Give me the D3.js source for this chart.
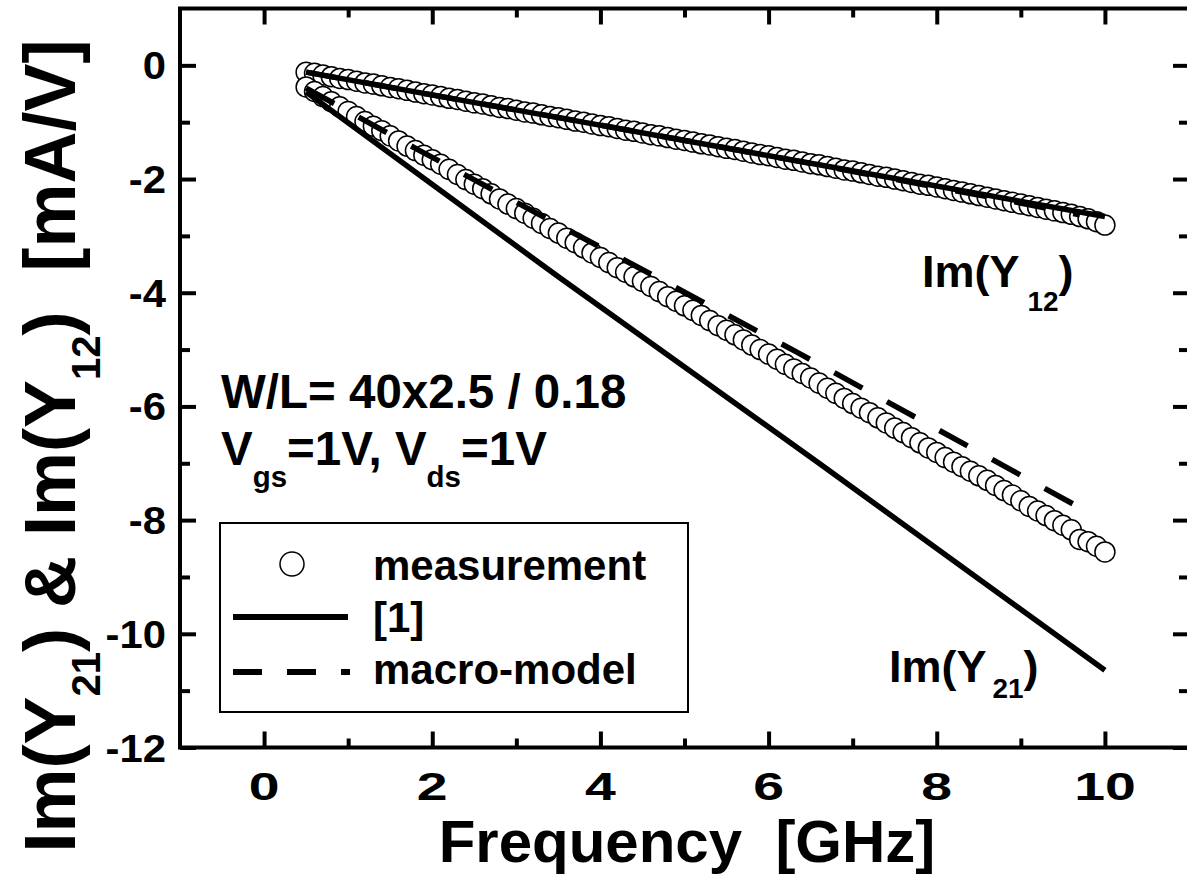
<!DOCTYPE html>
<html>
<head>
<meta charset="utf-8">
<script src="https://cdn.jsdelivr.net/npm/d3@7/dist/d3.min.js"></script>
<style>
  body { margin: 0; background: #fff; }
  svg { display: block; font-family: "Liberation Sans", Arial, sans-serif; font-weight: bold; }
  text { white-space: pre; }
</style>
</head>
<body>
<div id="chart"></div>
<script>
// measurement frequencies [GHz]
const freq = [0.5, 0.6, 0.7, 0.8, 0.9, 1.0, 1.1, 1.2, 1.3, 1.4, 1.5, 1.6, 1.7, 1.8, 1.9,
    2.0, 2.1, 2.2, 2.3, 2.4, 2.5, 2.6, 2.7, 2.8, 2.9, 3.0, 3.1, 3.2, 3.3, 3.4, 3.5, 3.6, 3.7, 3.8, 3.9,
    4.0, 4.1, 4.2, 4.3, 4.4, 4.5, 4.6, 4.7, 4.8, 4.9, 5.0, 5.1, 5.2, 5.3, 5.4, 5.5, 5.6, 5.7, 5.8, 5.9,
    6.0, 6.1, 6.2, 6.3, 6.4, 6.5, 6.6, 6.7, 6.8, 6.9, 7.0, 7.1, 7.2, 7.3, 7.4, 7.5, 7.6, 7.7, 7.8, 7.9,
    8.0, 8.1, 8.2, 8.3, 8.4, 8.5, 8.6, 8.7, 8.8, 8.9, 9.0, 9.1, 9.2, 9.3, 9.4, 9.5, 9.6, 9.7, 9.8, 9.9, 10.0];

// measured Im(Y12) [mA/V]
const measY12 = [-0.12, -0.14, -0.17, -0.20, -0.23, -0.25, -0.28, -0.31, -0.33, -0.36, -0.39, -0.41, -0.44, -0.47, -0.50,
    -0.52, -0.55, -0.58, -0.60, -0.63, -0.66, -0.68, -0.71, -0.74, -0.76, -0.79, -0.82, -0.84, -0.87, -0.90, -0.92, -0.95, -0.98, -1.00, -1.03,
    -1.06, -1.08, -1.11, -1.14, -1.16, -1.19, -1.22, -1.24, -1.27, -1.30, -1.32, -1.35, -1.38, -1.40, -1.43, -1.46, -1.48, -1.51, -1.54, -1.57,
    -1.59, -1.62, -1.65, -1.67, -1.70, -1.73, -1.75, -1.78, -1.81, -1.84, -1.86, -1.89, -1.92, -1.95, -1.97, -2.00, -2.03, -2.06, -2.09, -2.11,
    -2.14, -2.17, -2.20, -2.23, -2.26, -2.29, -2.32, -2.35, -2.38, -2.41, -2.44, -2.47, -2.50, -2.53, -2.56, -2.59, -2.62, -2.66, -2.70, -2.75, -2.81];

// measured Im(Y21) [mA/V]
const measY21 = [-0.38, -0.46, -0.55, -0.64, -0.73, -0.81, -0.90, -0.99, -1.07, -1.15, -1.24, -1.33, -1.42, -1.50, -1.58,
    -1.66, -1.74, -1.83, -1.92, -2.01, -2.09, -2.17, -2.26, -2.35, -2.44, -2.52, -2.60, -2.69, -2.78, -2.87, -2.95, -3.04, -3.12, -3.21, -3.30,
    -3.38, -3.47, -3.56, -3.64, -3.72, -3.80, -3.89, -3.98, -4.07, -4.15, -4.23, -4.31, -4.40, -4.49, -4.58, -4.66, -4.74, -4.83, -4.92, -5.00,
    -5.08, -5.17, -5.26, -5.34, -5.42, -5.50, -5.59, -5.68, -5.77, -5.86, -5.95, -6.03, -6.11, -6.20, -6.29, -6.38, -6.46, -6.55, -6.64, -6.73,
    -6.81, -6.90, -6.98, -7.06, -7.14, -7.22, -7.30, -7.39, -7.48, -7.56, -7.66, -7.76, -7.84, -7.92, -8.01, -8.09, -8.17, -8.34, -8.38, -8.46, -8.56];

// model [1] (solid)
const refFreq = [0.5, 3.5, 6.6, 10.0];
const refY21 = [-0.47, -3.72, -7.00, -10.64];
const refY12 = [-0.12, -0.92, -1.75, -2.66];

// macro-model (dashed)
const macroFreq = [0.5, 1.85, 3.81, 6.33, 8.89, 9.7];
const macroY21 = [-0.40, -1.50, -3.05, -5.04, -7.12, -7.78];
const macroY12 = [-0.12, -0.48, -1.00, -1.68, -2.39, -2.63];

const xMajor = [0, 2, 4, 6, 8, 10];
const xMinor = [1, 3, 5, 7, 9];
const yMajor = [0, -2, -4, -6, -8, -10, -12];
const yMinor = [-1, -3, -5, -7, -9, -11];

const width = 1187;
const height = 885;
const margin = { top: 8.5, right: -2, bottom: 137.5, left: 180 };

const svg = d3.select('#chart')
    .append('svg')
    .attr('width', width)
    .attr('height', height);

const x = d3.scaleLinear()
    .domain([-1, 11])
    .range([margin.left, width - margin.right]);

const y = d3.scaleLinear()
    .domain([-12, 1])
    .range([height - margin.bottom, margin.top]);

// measurement circles first, model lines on top
const meas = svg.append('g')
    .attr('fill', 'white')
    .attr('stroke', 'black')
    .attr('stroke-width', 1.5);

meas.selectAll('circle.y12')
    .data(freq)
    .join('circle')
    .attr('class', 'y12')
    .attr('cx', d => x(d))
    .attr('cy', (d, i) => y(measY12[i]))
    .attr('r', 10);

meas.selectAll('circle.y21')
    .data(freq)
    .join('circle')
    .attr('class', 'y21')
    .attr('cx', d => x(d))
    .attr('cy', (d, i) => y(measY21[i]))
    .attr('r', 10);

const line = d3.line()
    .x(d => x(d[0]))
    .y(d => y(d[1]));

const lines = [
    { f: macroFreq, v: macroY12, dash: '32,28' },
    { f: macroFreq, v: macroY21, dash: '32,28' },
    { f: refFreq, v: refY12, dash: null },
    { f: refFreq, v: refY21, dash: null },
];

svg.append('g')
    .selectAll('path')
    .data(lines)
    .join('path')
    .attr('fill', 'none')
    .attr('stroke', 'black')
    .attr('stroke-width', 5.5)
    .attr('stroke-dasharray', d => d.dash)
    .attr('d', d => line(d.f.map((f, i) => [f, d.v[i]])));

// frame + inward ticks on all four sides
const plotW = x.range()[1] - x.range()[0];
const plotH = y.range()[0] - y.range()[1];

const tickAxis = (axis, scale, values, size) =>
    axis(scale).tickValues(values).tickSize(size).tickFormat('');

const addAxis = (ax, tr) => {
    const g = svg.append('g')
        .attr('transform', tr)
        .call(ax);
    g.select('.domain').remove();
    g.selectAll('.tick line').attr('stroke', 'black').attr('stroke-width', 4);
    return g;
};

addAxis(tickAxis(d3.axisBottom, x, xMajor, -16), `translate(0,${y.range()[0]})`);
addAxis(tickAxis(d3.axisBottom, x, xMinor, -9), `translate(0,${y.range()[0]})`);
addAxis(tickAxis(d3.axisTop, x, xMajor, -16), `translate(0,${y.range()[1]})`);
addAxis(tickAxis(d3.axisTop, x, xMinor, -9), `translate(0,${y.range()[1]})`);
addAxis(tickAxis(d3.axisLeft, y, yMajor, -16), `translate(${x.range()[0]},0)`);
addAxis(tickAxis(d3.axisLeft, y, yMinor, -10), `translate(${x.range()[0]},0)`);
addAxis(tickAxis(d3.axisRight, y, yMajor, -16), `translate(${x.range()[1]},0)`);
addAxis(tickAxis(d3.axisRight, y, yMinor, -10), `translate(${x.range()[1]},0)`);

svg.append('rect')
    .attr('x', x.range()[0])
    .attr('y', y.range()[1])
    .attr('width', plotW)
    .attr('height', plotH)
    .attr('fill', 'none')
    .attr('stroke', 'black')
    .attr('stroke-width', 4);

// tick labels
svg.append('g')
    .selectAll('text')
    .data(xMajor)
    .join('text')
    .attr('transform', d => `translate(${x(d)},800) scale(1.42,1)`)
    .attr('text-anchor', 'middle')
    .attr('font-size', 39)
    .text(d => d);

svg.append('g')
    .selectAll('text')
    .data(yMajor)
    .join('text')
    .attr('transform', d => `translate(166,${y(d) + 14}) scale(1.1,1)`)
    .attr('text-anchor', 'end')
    .attr('font-size', 38)
    .text(d => d);

// axis titles
svg.append('text')
    .attr('x', 687)
    .attr('y', 862)
    .attr('text-anchor', 'middle')
    .attr('font-size', 60)
    .text('Frequency  [GHz]');

const yt = svg.append('text')
    .attr('transform', 'translate(75,446) rotate(-90)')
    .attr('text-anchor', 'middle')
    .attr('font-size', 72);
yt.append('tspan').text('Im(Y');
yt.append('tspan').attr('font-size', 40).attr('dy', 25).text('21');
yt.append('tspan').attr('dy', -25).text(') & Im(Y');
yt.append('tspan').attr('font-size', 40).attr('dy', 25).text('12');
yt.append('tspan').attr('dy', -25).text(')  [mA/V]');

// annotations
const subText = (px, py, size, parts) => {
    const t = svg.append('text')
        .attr('x', px)
        .attr('y', py)
        .attr('font-size', size);
    parts.forEach(p => {
        t.append('tspan')
            .attr('font-size', p.sub ? size * 0.62 : size)
            .attr('dy', p.dy || 0)
            .attr('dx', p.dx || 0)
            .text(p.t);
    });
};

svg.append('text')
    .attr('x', 221)
    .attr('y', 408)
    .attr('font-size', 47.5)
    .text('W/L= 40x2.5 / 0.18');

subText(221, 465, 47.5, [
    { t: 'V' }, { t: 'gs', sub: true, dy: 22 },
    { t: '=1V, V', dy: -22 }, { t: 'ds', sub: true, dy: 22 },
    { t: '=1V', dy: -22 },
]);

subText(922, 287, 45, [
    { t: 'Im(Y' }, { t: '12', sub: true, dy: 24, dx: 8 }, { t: ')', dy: -24 },
]);

subText(889, 682, 45, [
    { t: 'Im(Y' }, { t: '21', sub: true, dy: 16, dx: 6 }, { t: ')', dy: -16 },
]);

// legend
const legend = svg.append('g');

legend.append('rect')
    .attr('x', 220)
    .attr('y', 523)
    .attr('width', 468)
    .attr('height', 189)
    .attr('fill', 'white')
    .attr('stroke', 'black')
    .attr('stroke-width', 2);

legend.append('circle')
    .attr('cx', 292)
    .attr('cy', 564)
    .attr('r', 12)
    .attr('fill', 'white')
    .attr('stroke', 'black')
    .attr('stroke-width', 1.5);

legend.append('line')
    .attr('x1', 233).attr('x2', 348)
    .attr('y1', 617).attr('y2', 617)
    .attr('stroke', 'black')
    .attr('stroke-width', 6);

legend.append('line')
    .attr('x1', 233).attr('x2', 350)
    .attr('y1', 672).attr('y2', 672)
    .attr('stroke', 'black')
    .attr('stroke-width', 6)
    .attr('stroke-dasharray', '29,25');

legend.selectAll('text')
    .data([['measurement', 580], ['[1]', 632], ['macro-model', 684]])
    .join('text')
    .attr('x', 373)
    .attr('y', d => d[1])
    .attr('font-size', 42)
    .text(d => d[0]);
</script>
</body>
</html>
